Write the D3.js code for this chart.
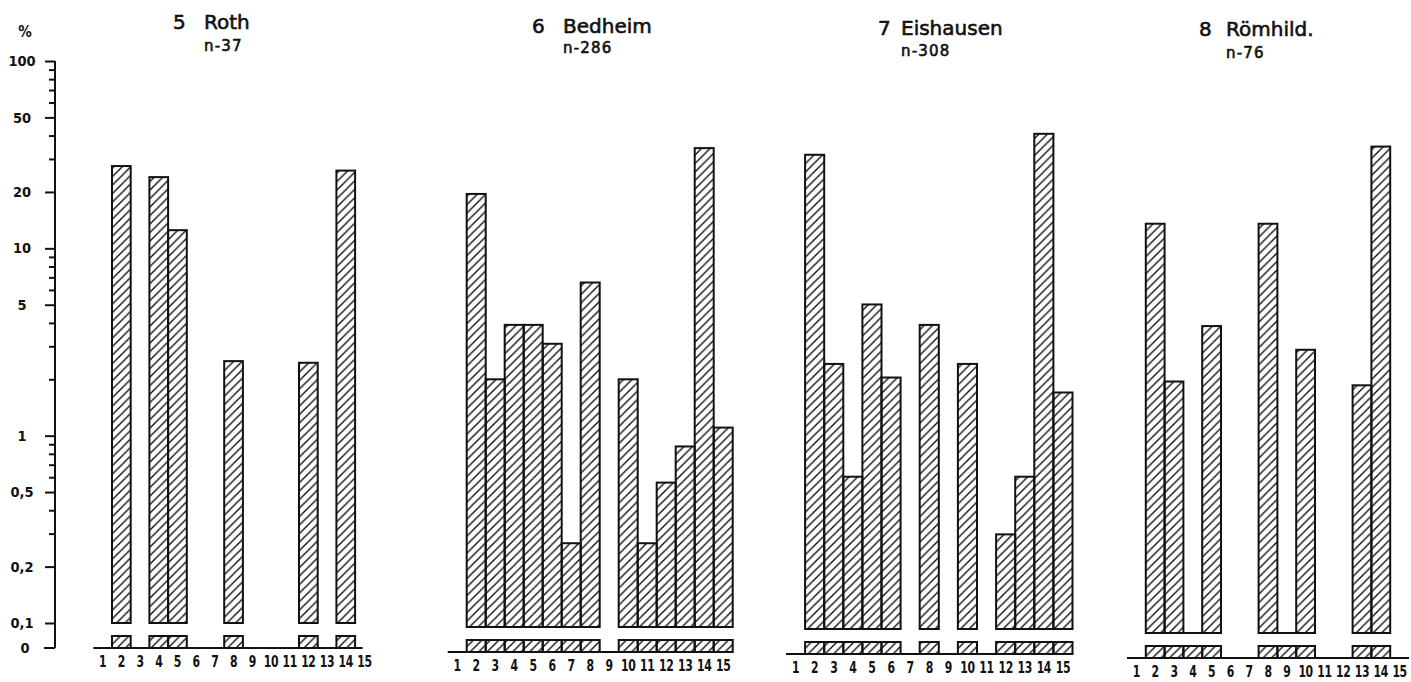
<!DOCTYPE html>
<html>
<head>
<meta charset="utf-8">
<script src="https://cdn.jsdelivr.net/npm/d3@7"></script>
<style>
  body { margin: 0; background: #fff; }
  text { font-family: "DejaVu Sans", sans-serif; fill: #111; }
</style>
</head>
<body>
<div id="chart"></div>
<script>
// categories 1..15 on every panel
const categories = [1, 2, 3, 4, 5, 6, 7, 8, 9, 10, 11, 12, 13, 14, 15]
const siteNames = ["Roth", "Bedheim", "Eishausen", "Römhild."]
const siteNumbers = ["5", "6", "7", "8"]
const sampleSizes = [37, 286, 308, 76]

// percent per category, null = not present, 0 = present but below 0,1
const roth = [null, 27.5, null, 24, 12.5, null, null, 2.5, null, null, null, 2.45, null, 26, null]
const bedheim = [null, 20.5, 2.1, 4.1, 4.1, 3.25, 0.28, 6.9, null, 2.1, 0.28, 0.59, 0.92, 36, 1.16]
const eishausen = [null, 34, 2.6, 0.65, 5.4, 2.2, null, 4.2, null, 2.6, null, 0.32, 0.65, 44, 1.83]
const roemhild = [null, 15.3, 2.2, 0, 4.35, null, null, 15.3, 0, 3.25, null, null, 2.1, 39.5, null]

const seriesList = [roth, bedheim, eishausen, roemhild]

// y axis ticks
const majorTicks = [100, 50, 20, 10, 5, 1, 0.5, 0.2, 0.1]
const majorLabels = ["100", "50", "20", "10", "5", "1", "0,5", "0,2", "0,1"]
const minorTicks = [90, 80, 70, 60, 40, 30, 9, 8, 7, 6, 4, 3, 2, 0.9, 0.8, 0.7, 0.6, 0.4, 0.3]

// panel layout (hand drawn panels are slightly shifted)
const panels = [
	{ x0: 93.3, w: 18.7, dy: 0, lineEnd: 14.4, numX: 173, nameX: 204, titleY: 29, nY: 51 },
	{ x0: 447.7, w: 19, dy: 4, lineEnd: 15, numX: 532, nameX: 563, titleY: 33, nY: 53 },
	{ x0: 786, w: 19.1, dy: 6, lineEnd: 15, numX: 878, nameX: 901, titleY: 35, nY: 56 },
	{ x0: 1127, w: 18.8, dy: 10, lineEnd: 15, numX: 1199, nameX: 1226, titleY: 36, nY: 58 }
]

const condensed = "DejaVu Sans Condensed, DejaVu Sans, sans-serif"

const svg = d3.select("#chart")
	.append("svg")
	.attr("width", 1411)
	.attr("height", 682)

// hatch pattern
const pat = svg.append("defs")
	.append("pattern")
	.attr("id", "hatch")
	.attr("patternUnits", "userSpaceOnUse")
	.attr("width", 8.5)
	.attr("height", 8.5)
pat.append("path")
	.attr("d", "M-1,1 l2,-2 M0,8.5 l8.5,-8.5 M7.5,9.5 l2,-2")
	.attr("stroke", "#111")
	.attr("stroke-width", 1.4)

const yTop = 61, yBottom = 623, zeroGap = 25

// left axis (belongs to panel 1)
const yAxisScale = d3.scaleLog().domain([0.1, 100]).range([yBottom, yTop])
const axisX = 55

const gAxis = svg.append("g").attr("class", "VerticalAxis").attr("transform", `translate(${axisX},0)`)
gAxis.call(d3.axisLeft(yAxisScale).tickValues(majorTicks).tickSize(10).tickPadding(14)
	.tickFormat((d, i) => majorLabels[i]))
gAxis.append("g").call(d3.axisLeft(yAxisScale).tickValues(minorTicks).tickSize(6).tickFormat(""))
gAxis.selectAll(".domain").remove()
gAxis.selectAll("line").attr("stroke", "#111").attr("stroke-width", 2)
gAxis.selectAll(".tick text")
	.attr("text-anchor", "middle")
	.attr("x", -33)
	.style("font-size", "14.5px")
	.style("font-weight", "bold")
	.style("font-family", condensed)

const zero0 = yBottom + zeroGap
gAxis.append("line")
	.attr("x1", 0).attr("x2", 0)
	.attr("y1", yTop).attr("y2", zero0)
	.attr("stroke", "#111").attr("stroke-width", 2)
gAxis.append("line")
	.attr("x1", -11).attr("x2", 0)
	.attr("y1", zero0).attr("y2", zero0)
	.attr("stroke", "#111").attr("stroke-width", 2)
gAxis.append("text")
	.attr("x", -30).attr("y", zero0 + 5)
	.attr("text-anchor", "middle")
	.style("font-size", "14.5px")
	.style("font-weight", "bold")
	.style("font-family", condensed)
	.text("0")
svg.append("text")
	.attr("x", 25).attr("y", 37)
	.attr("text-anchor", "middle")
	.style("font-size", "15px")
	.style("font-weight", "bold")
	.style("font-family", condensed)
	.text("%")

// panels
panels.forEach((p, k) => {
	const data = seriesList[k].map((v, i) => ({ cat: categories[i], value: v }))
	const present = data.filter(d => d.value !== null)

	const x = d3.scaleBand().domain(categories).range([p.x0, p.x0 + 15 * p.w]).padding(0)
	const y = d3.scaleLog().domain([0.1, 100]).range([yBottom + p.dy, yTop + p.dy])
	const zeroY = y(0.1) + zeroGap

	const g = svg.append("g").attr("class", "panel" + k)

	// title
	g.append("text")
		.attr("x", p.numX).attr("y", p.titleY)
		.style("font-size", "20px")
		.style("stroke", "#111").style("stroke-width", 0.6)
		.text(siteNumbers[k])
	g.append("text")
		.attr("x", p.nameX).attr("y", p.titleY)
		.style("font-size", "20px")
		.style("stroke", "#111").style("stroke-width", 0.6)
		.text(siteNames[k])
	g.append("text")
		.attr("x", p.nameX).attr("y", p.nY)
		.style("font-size", "15px")
		.style("letter-spacing", "1.2px")
		.style("stroke", "#111").style("stroke-width", 0.6)
		.text("n-" + sampleSizes[k])

	// main bars (log part)
	g.append("g")
		.selectAll("rect")
		.data(present.filter(d => d.value >= 0.1))
		.enter()
		.append("rect")
		.attr("x", d => x(d.cat))
		.attr("y", d => y(d.value))
		.attr("width", x.bandwidth())
		.attr("height", d => y(0.1) - y(d.value))
		.attr("fill", "url(#hatch)")
		.attr("stroke", "#111")
		.attr("stroke-width", 2)

	// below 0,1 : only a line at the 0,1 level
	g.append("g")
		.selectAll("line")
		.data(present.filter(d => d.value < 0.1))
		.enter()
		.append("line")
		.attr("x1", d => x(d.cat))
		.attr("x2", d => x(d.cat) + x.bandwidth())
		.attr("y1", y(0.1))
		.attr("y2", y(0.1))
		.attr("stroke", "#111")
		.attr("stroke-width", 2)

	// small boxes in the 0 band
	g.append("g")
		.selectAll("rect")
		.data(present)
		.enter()
		.append("rect")
		.attr("x", d => x(d.cat))
		.attr("y", zeroY - 12)
		.attr("width", x.bandwidth())
		.attr("height", 12)
		.attr("fill", "url(#hatch)")
		.attr("stroke", "#111")
		.attr("stroke-width", 2)

	// baseline
	g.append("line")
		.attr("x1", p.x0)
		.attr("x2", p.x0 + p.lineEnd * p.w)
		.attr("y1", zeroY)
		.attr("y2", zeroY)
		.attr("stroke", "#111")
		.attr("stroke-width", 2)

	// category labels (tall, narrow digits)
	const gX = g.append("g")
		.attr("transform", `translate(0,${zeroY})`)
		.call(d3.axisBottom(x).tickSize(0).tickPadding(8))
	gX.select(".domain").remove()
	gX.selectAll(".tick text")
		.attr("transform", "scale(0.68,1)")
		.style("font-size", "16px")
		.style("font-weight", "bold")
		.style("letter-spacing", "-0.5px")
})
</script>
</body>
</html>
